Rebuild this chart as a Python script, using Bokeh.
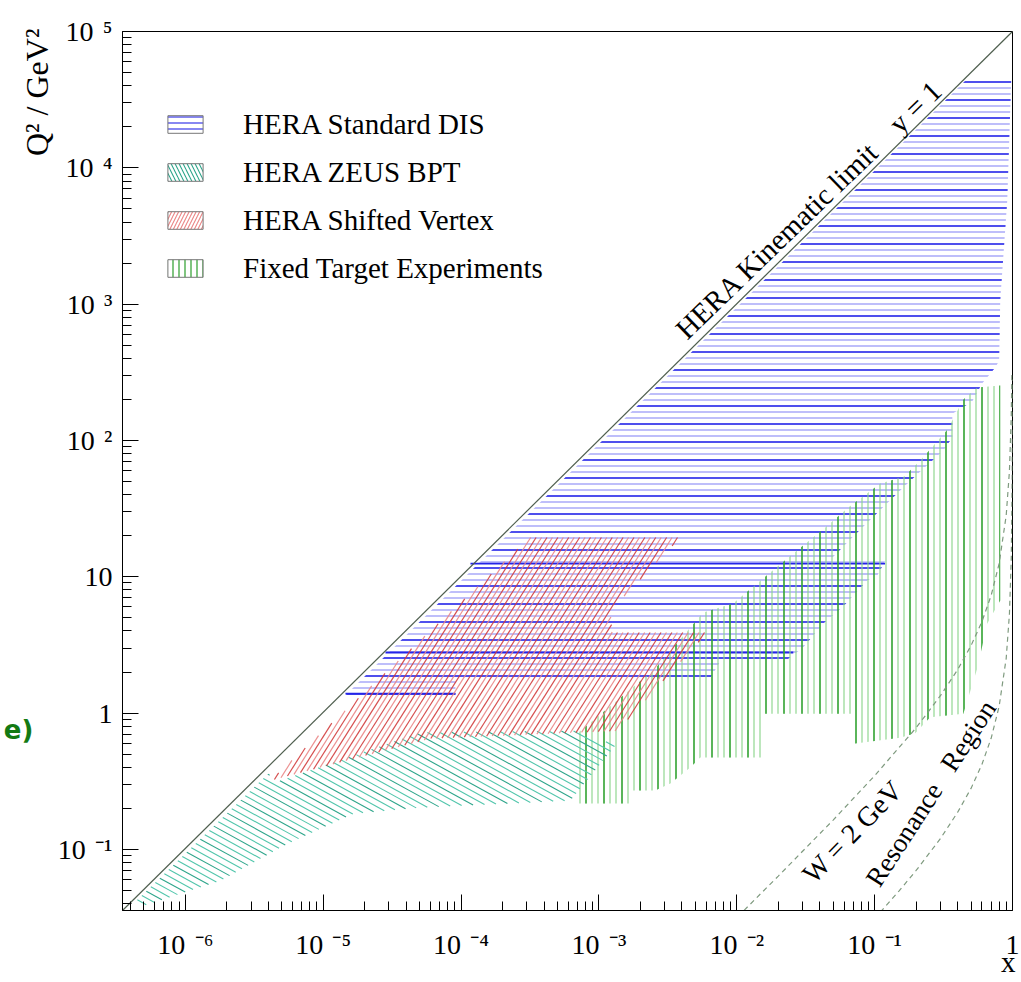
import numpy as np
from bokeh.plotting import figure
from bokeh.models import FixedTicker, Label, Legend, LegendItem, Title
from bokeh.embed import file_html
from bokeh.resources import INLINE
from bokeh.core.properties import value

# ---------------- data ----------------
GAP = " \u200a"
x_ticks = [1e-6, 1e-5, 1e-4, 1e-3, 1e-2, 1e-1, 1.0]
x_tick_labels = ["10" + GAP + "⁻⁶", "10" + GAP + "⁻⁵", "10" + GAP + "⁻⁴", "10" + GAP + "⁻³",
                 "10" + GAP + "⁻²", "10" + GAP + "⁻¹", "1"]
y_ticks = [1e-1, 1.0, 10.0, 100.0, 1e3, 1e4, 1e5]
y_tick_labels = ["10" + GAP + "⁻¹", "1", "10", "10" + GAP + "²", "10" + GAP + "³",
                 "10" + GAP + "⁴", "10" + GAP + "⁵"]

x_lo, x_hi = 3.5e-7, 1.0
q_lo, q_hi = 0.0356, 1.0e5

# HERA kinematic limit y = 1
kin_x = [3.5e-7, 1.0]
kin_q2 = [0.0356, 1.0e5]

# W = 2 GeV line
w2_x = [0.0113, 0.02, 0.05, 0.1, 0.2, 0.3, 0.4, 0.5, 0.6, 0.7, 0.8, 0.9, 0.95, 0.98, 0.99]
w2_q2 = [0.0357, 0.0637, 0.164, 0.347, 0.78, 1.34, 2.08, 3.12, 4.68, 7.28, 12.5, 28.1, 59.3, 153, 309]
# resonance region edge
res_x = [0.11, 0.15, 0.2, 0.3, 0.4, 0.5, 0.6, 0.7, 0.8, 0.9, 0.95, 0.98, 0.995, 0.999]
res_q2 = [0.0346, 0.0494, 0.07, 0.12, 0.187, 0.28, 0.42, 0.653, 1.12, 2.52, 5.32, 13.7, 55.7, 280]

# HERA Standard DIS region (outline)
dis_x = [0.48, 0.98, 0.916, 0.815, 0.80, 0.75, 0.60, 0.51, 0.366, 0.366, 0.315, 0.207, 0.167,
         0.136, 0.0914, 0.0676, 0.0493, 0.0493, 0.119, 0.105, 0.0883, 0.0582, 0.0424,
         0.0303, 0.0237, 0.0237, 7.6e-3, 6.4e-3, 6.4e-3, 9.1e-5, 9.1e-5, 1.40e-5]
dis_q2 = [4.6e4, 4.6e4, 5750, 1062, 385, 343, 261, 193, 157, 105, 84.3, 57.2, 46.7,
          38.1, 25.8, 19.1, 13.8, 13.0, 13.0, 10.3, 9.38, 5.94, 4.54,
          3.03, 2.51, 2.40, 2.40, 1.79, 1.76, 1.76, 1.30, 1.30]
# darker single bins of the Standard DIS set: Q2, x from, x to
dis_dark_q2 = [12.5, 2.78, 1.39]
dis_dark_x0 = [1.17e-4, 2.83e-5, 1.45e-5]
dis_dark_x1 = [0.119, 0.0257, 9.1e-5]

# HERA ZEUS BPT region
bpt_x = [4.2e-7, 4.0e-6, 4.5e-6, 5.1e-5, 6.75e-4, 1.32e-3, 6.2e-4, 5.1e-5, 1.66e-5, 5.5e-6, 1.8e-6, 5.0e-7]
bpt_q2 = [0.040, 0.36, 0.31, 0.72, 0.74, 0.58, 0.228, 0.203, 0.183, 0.110, 0.059, 0.0387]

# HERA Shifted Vertex region
sv_x = [4.14e-6, 3.18e-4, 3.89e-3, 1.21e-3, 1.25e-3, 6.11e-3, 1.36e-3, 6.0e-5, 4.14e-6]
sv_q2 = [0.32, 19.4, 19.4, 5.65, 3.9, 3.9, 0.74, 0.65, 0.32]

# Fixed Target Experiments region
ft_x = [6.85e-4, 1.27e-3, 2.56e-3, 5.71e-3, 9.4e-3, 0.0155, 0.0257, 0.0439, 0.0644, 0.110,
        0.164, 0.221, 0.337, 0.44, 0.555, 0.815,
        0.815, 0.656, 0.555, 0.44, 0.253, 0.197, 0.153, 0.0723, 0.0676, 0.0676, 0.0153,
        0.0153, 5.43e-3, 4.6e-3, 3.3e-3, 2.56e-3, 1.69e-3, 1.69e-3, 6.85e-4]
ft_q2 = [0.70, 1.17, 2.12, 5.46, 6.35, 9.7, 14.8, 23.0, 32.2, 48.3,
         54.3, 73.6, 120, 200, 244, 253,
         6.68, 4.54, 2.12, 0.99, 0.93, 0.71, 0.66, 0.597, 0.597, 0.99, 0.99,
         0.471, 0.471, 0.398, 0.304, 0.27, 0.27, 0.217, 0.217]

legend_names = ["HERA Standard DIS", "HERA ZEUS BPT", "HERA Shifted Vertex", "Fixed Target Experiments"]

# ---------------- styles ----------------
SERIF = "Liberation Serif"
BLUE_L, BLUE_D = "#8585f5", "#2424e8"
GREEN_L, GREEN_D = "#8ad48a", "#169416"
TEAL_L, TEAL_D = "#52c6ac", "#2ea58b"
RED_L, RED_D = "#ea8585", "#d23c3c"
NB = "\u00a0"
PPD = 137.5  # on-screen pixels per decade (both axes), used only to space hatch lines


def hatch(xs, ys, angle_deg, spacing):
    """Clip parallel hatch lines (angle and spacing in screen terms) to a polygon in log space."""
    u = np.log10(np.asarray(xs, float)) * PPD
    v = np.log10(np.asarray(ys, float)) * PPD
    th = np.deg2rad(angle_deg)
    d = np.array([np.cos(th), np.sin(th)])
    n = np.array([-np.sin(th), np.cos(th)])
    c = u * n[0] + v * n[1]
    s = u * d[0] + v * d[1]
    m = len(u)
    out = ([], [], [], [], [])
    for i in range(int(np.ceil(c.min() / spacing)), int(np.floor(c.max() / spacing)) + 1):
        c0 = i * spacing
        hits = []
        for j in range(m):
            ca, cb = c[j], c[(j + 1) % m]
            if (ca <= c0 < cb) or (cb <= c0 < ca):
                t = (c0 - ca) / (cb - ca)
                hits.append(s[j] + t * (s[(j + 1) % m] - s[j]))
        hits.sort()
        for a, b in zip(hits[0::2], hits[1::2]):
            pa = c0 * n + a * d
            pb = c0 * n + b * d
            out[0].append(10 ** (pa[0] / PPD)); out[1].append(10 ** (pa[1] / PPD))
            out[2].append(10 ** (pb[0] / PPD)); out[3].append(10 ** (pb[1] / PPD))
            out[4].append(i)
    return out


p = figure(width=1019, height=980, x_axis_type="log", y_axis_type="log",
           x_range=(x_lo, x_hi), y_range=(q_lo, q_hi),
           output_backend="svg", toolbar_location=None,
           min_border_left=122, min_border_right=7, min_border_top=31, min_border_bottom=70)
p.background_fill_color = "white"
p.border_fill_color = "white"
p.outline_line_color = "black"
p.outline_line_width = 1
p.xgrid.visible = False
p.ygrid.visible = False

def minor(decs):
    return [k * 10.0 ** dd for dd in decs for k in range(2, 10)]

p.xaxis.ticker = FixedTicker(ticks=x_ticks, minor_ticks=minor(range(-7, 0)))
p.yaxis.ticker = FixedTicker(ticks=y_ticks, minor_ticks=minor(range(-2, 5)))
p.xaxis.major_label_overrides = dict(zip(x_ticks, x_tick_labels))
p.yaxis.major_label_overrides = dict(zip(y_ticks, y_tick_labels))
for ax in (p.xaxis, p.yaxis):
    ax.major_tick_in = 16
    ax.major_tick_out = 0
    ax.minor_tick_in = 9
    ax.minor_tick_out = 0
    ax.axis_line_color = "black"
    ax.major_tick_line_color = "black"
    ax.minor_tick_line_color = "black"
    ax.major_label_text_font = SERIF
    ax.major_label_text_font_size = "28px"
    ax.major_label_text_color = "black"
p.xaxis.major_label_standoff = 18
p.yaxis.major_label_standoff = 10

# ---------------- regions ----------------
p.patch(dis_x, dis_q2, fill_alpha=0, line_alpha=0, hatch_pattern="-",
        hatch_color=BLUE_L, hatch_scale=6, hatch_weight=1.2, hatch_alpha=0.9)
p.patch(dis_x, dis_q2, fill_alpha=0, line_alpha=0, hatch_pattern="-",
        hatch_color=BLUE_D, hatch_scale=18, hatch_weight=1.6, hatch_alpha=0.9)
p.segment(x0=dis_dark_x0, y0=dis_dark_q2, x1=dis_dark_x1, y1=dis_dark_q2,
          line_color=BLUE_D, line_width=1.8)

p.patch(ft_x, ft_q2, fill_alpha=0, line_alpha=0, hatch_pattern="|",
        hatch_color=GREEN_L, hatch_scale=6, hatch_weight=1.2, hatch_alpha=0.95)
p.patch(ft_x, ft_q2, fill_alpha=0, line_alpha=0, hatch_pattern="|",
        hatch_color=GREEN_D, hatch_scale=18, hatch_weight=1.5, hatch_alpha=0.8)

# ZEUS BPT: shallow "\" hatch
bx0, by0, bx1, by1, bk = hatch(bpt_x, bpt_q2, -29.0, 6.0)
p.segment(x0=bx0, y0=by0, x1=bx1, y1=by1,
          line_color=[TEAL_D if k % 3 == 0 else TEAL_L for k in bk], line_width=1.1)

# Shifted Vertex: steep "/" hatch
rx0, ry0, rx1, ry1, rk = hatch(sv_x, sv_q2, 58.0, 4.6)
p.segment(x0=rx0, y0=ry0, x1=rx1, y1=ry1,
          line_color=[RED_D if k % 2 == 0 else RED_L for k in rk], line_width=1.2, line_alpha=0.9)

# ---------------- lines ----------------
p.line(kin_x, kin_q2, line_color="#4f5f4f", line_width=1.2)
p.line(w2_x, w2_q2, line_color="#7f9a7f", line_width=1.2, line_dash="5 4")
p.line(res_x, res_q2, line_color="#7f9a7f", line_width=1.2, line_dash="5 4")

# ---------------- texts ----------------
p.text(x=[3.89e-3], y=[608], text=["HERA Kinematic limit" + NB * 4 + "y = 1"], angle=np.deg2rad(44.0),
       text_font=value(SERIF), text_font_size="29px", text_align="left",
       text_baseline="alphabetic", text_color="black")
p.text(x=[0.0324], y=[0.0611], text=["W = 2 GeV"], angle=np.deg2rad(46.0),
       text_font=value(SERIF), text_font_size="28px", text_align="left",
       text_baseline="alphabetic", text_color="black")
p.text(x=[0.0962], y=[0.0561], text=["Resonance" + NB * 3 + "Region"], angle=np.deg2rad(57.0),
       text_font=value(SERIF), text_font_size="27px", text_align="left",
       text_baseline="alphabetic", text_color="black")

# y-axis title near the top of the axis
p.add_layout(Title(text="Q² / GeV²", align="right", offset=-3, standoff=0,
                   text_font=SERIF, text_font_size="32px", text_font_style="normal",
                   text_color="black"), "left")

# x-axis title under the right end (side-panel label, so it is not clipped)
p.add_layout(Label(x=0.93, y=0.0148, text="x", text_font=SERIF, text_font_size="29px",
                   text_align="center", text_baseline="alphabetic", text_color="black"), "left")

# stray "e)" fragment at the left edge (kept in a side panel so it is not clipped)
p.add_layout(Label(x=7.9e-8, y=0.745, text="e)", text_font="DejaVu Sans", text_font_size="26px",
                   text_font_style="bold", text_align="right", text_baseline="middle",
                   text_color="#137a13"), "above")

# ---------------- legend ----------------
leg_styles = [
    dict(hatch_pattern="-", hatch_color=BLUE_D, hatch_scale=6),
    dict(hatch_pattern="\\", hatch_color=TEAL_D, hatch_scale=8),
    dict(hatch_pattern="/", hatch_color=RED_L, hatch_scale=7),
    dict(hatch_pattern="|", hatch_color=GREEN_D, hatch_scale=6),
]
off_x = [1e-12, 2e-12, 2e-12]
off_y = [1e-9, 1e-9, 2e-9]
items = []
for name, st in zip(legend_names, leg_styles):
    r = p.patch(x=off_x, y=off_y, fill_color="white", fill_alpha=1, line_color="#777777",
                line_width=1, hatch_weight=1.1, **st)
    items.append(LegendItem(label=name, renderers=[r]))
legend = Legend(items=items, location=(31, 613), margin=0, padding=10,
                glyph_width=44, glyph_height=22, label_height=38, spacing=10,
                label_standoff=36, label_text_font=SERIF, label_text_font_size="29px",
                label_text_color="black", border_line_alpha=0, background_fill_alpha=0)
p.add_layout(legend)

open("out.html", "w").write(file_html(p, INLINE))
